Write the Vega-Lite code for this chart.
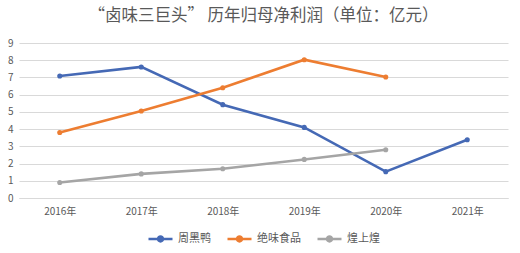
{
  "$schema": "https://vega.github.io/schema/vega-lite/v6.json",
  "width": 489,
  "height": 155,
  "autosize": "none",
  "padding": {"left": 19, "top": 43, "right": 12, "bottom": 55},
  "background": "white",
  "title": {
    "text": "“卤味三巨头”  历年归母净利润（单位：亿元）",
    "fontSize": 16.5,
    "fontWeight": "normal",
    "color": "#595959",
    "font": "Noto Sans CJK SC",
    "anchor": "middle",
    "offset": 14
  },
  "data": {
    "values": [
      {"year": "2016年", "company": "周黑鸭", "profit": 7.08},
      {"year": "2017年", "company": "周黑鸭", "profit": 7.61},
      {"year": "2018年", "company": "周黑鸭", "profit": 5.42},
      {"year": "2019年", "company": "周黑鸭", "profit": 4.1},
      {"year": "2020年", "company": "周黑鸭", "profit": 1.53},
      {"year": "2021年", "company": "周黑鸭", "profit": 3.38},
      {"year": "2016年", "company": "绝味食品", "profit": 3.8},
      {"year": "2017年", "company": "绝味食品", "profit": 5.05},
      {"year": "2018年", "company": "绝味食品", "profit": 6.4},
      {"year": "2019年", "company": "绝味食品", "profit": 8.03},
      {"year": "2020年", "company": "绝味食品", "profit": 7.03},
      {"year": "2016年", "company": "煌上煌", "profit": 0.9},
      {"year": "2017年", "company": "煌上煌", "profit": 1.4},
      {"year": "2018年", "company": "煌上煌", "profit": 1.7},
      {"year": "2019年", "company": "煌上煌", "profit": 2.24},
      {"year": "2020年", "company": "煌上煌", "profit": 2.8}
    ]
  },
  "mark": {
    "type": "line",
    "strokeWidth": 2.6,
    "point": {"size": 26, "filled": true}
  },
  "encoding": {
    "x": {
      "field": "year",
      "type": "ordinal",
      "sort": null,
      "scale": {"type": "point", "padding": 0.5},
      "axis": {
        "title": null,
        "labelAngle": 0,
        "ticks": false,
        "domain": true,
        "domainColor": "#d9d9d9",
        "labelPadding": 8,
        "labelFontSize": 10,
        "labelColor": "#595959",
        "labelFont": "Noto Sans CJK SC",
        "grid": false
      }
    },
    "y": {
      "field": "profit",
      "type": "quantitative",
      "scale": {"domain": [0, 9], "nice": false},
      "axis": {
        "title": null,
        "values": [0, 1, 2, 3, 4, 5, 6, 7, 8, 9],
        "ticks": false,
        "domain": false,
        "gridColor": "#d9d9d9",
        "gridWidth": 1,
        "labelPadding": 6,
        "labelFontSize": 10,
        "labelColor": "#595959",
        "labelFont": "Noto Sans CJK SC"
      }
    },
    "color": {
      "field": "company",
      "type": "nominal",
      "sort": ["周黑鸭", "绝味食品", "煌上煌"],
      "scale": {
        "domain": ["周黑鸭", "绝味食品", "煌上煌"],
        "range": ["#4569B5", "#ED7D31", "#A5A5A5"]
      },
      "legend": {
        "title": null,
        "orient": "bottom",
        "direction": "horizontal",
        "offset": 9,
        "symbolType": "M-1,0H1M0.2,0A0.2,0.2,0,1,1,-0.2,0A0.2,0.2,0,1,1,0.2,0Z",
        "symbolSize": 576,
        "symbolStrokeWidth": 2.6,
        "labelFontSize": 11,
        "labelColor": "#595959",
        "labelFont": "Noto Sans CJK SC",
        "labelOffset": 4,
        "columnPadding": 11
      }
    }
  },
  "config": {
    "view": {"stroke": null},
    "legend": {"layout": {"bottom": {"anchor": "middle"}}}
  }
}
